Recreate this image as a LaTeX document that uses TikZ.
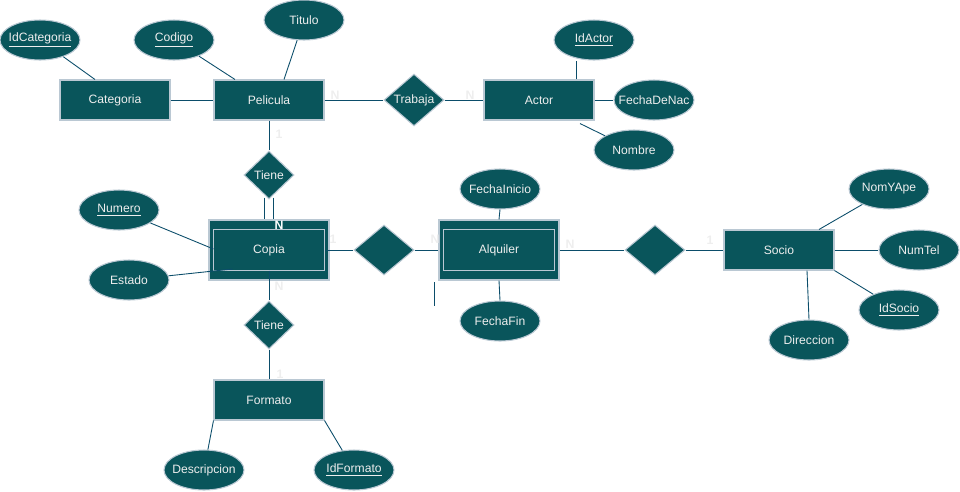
\documentclass[tikz,border=0pt]{standalone}
\usepackage{fontspec}
\setmainfont{Liberation Sans}
\usetikzlibrary{shapes.geometric}

\definecolor{erfill}{HTML}{09555B}
\definecolor{erborder}{HTML}{BAC8D3}
\definecolor{erline}{HTML}{0B4D6A}
\definecolor{ertext}{HTML}{EEEEEE}

\newcommand{\attrname}[1]{\makebox[0pt]{#1}}
\newcommand{\keyname}[1]{\makebox[0pt]{\underline{#1}}}

\tikzset{
	entity/.style={rectangle, fill=erfill, draw=erborder, line width=0.6pt, text=ertext, minimum width=2.2cm, minimum height=0.8cm, inner sep=0pt},
	weakentity/.style={entity, minimum width=2.4cm, minimum height=1.2cm},
	attribute/.style={ellipse, fill=erfill, draw=erborder, line width=0.6pt, text=ertext, minimum width=1.6cm, minimum height=0.8cm, inner sep=0pt},
	relation/.style={diamond, fill=erfill, draw=erborder, line width=0.6pt, text=ertext, minimum width=1.2cm, minimum height=1cm, inner sep=0pt},
	smallrelation/.style={relation, minimum width=1cm, minimum height=0.96cm},
	link/.style={draw=erline, line width=0.5pt},
	innerframe/.style={draw=erborder, line width=0.6pt},
	card/.style={text=ertext, inner sep=0pt, font=\fontsize{7}{8}\selectfont\bfseries}
}

\begin{document}
\begin{tikzpicture}[x=0.02cm, y=-0.02cm, font=\fontsize{6.9}{8}\selectfont]
		\useasboundingbox (0,0) rectangle (960,491);
		
		\node [entity] (categoria) at (115,100) {Categoria};
		\node [entity] (pelicula) at (269,100) {Pelicula};
		\node [entity] (actor) at (539,100) {Actor};
		\node [relation] (trabaja) at (414,100) {Trabaja};
		\node [attribute] (idcategoria) at (40,40) {\keyname{IdCategoria}};
		\node [attribute] (codigo) at (174,40) {\keyname{Codigo}};
		\node [attribute] (titulo) at (304,20) {\attrname{Titulo}};
		\node [attribute] (idactor) at (594,40) {\keyname{IdActor}};
		\node [attribute] (fechadenac) at (654,100) {\attrname{FechaDeNac}};
		\node [attribute] (nombre) at (634,150) {\attrname{Nombre}};
		
		\node [smallrelation] (tienecopia) at (269,175) {Tiene};
		\node [weakentity] (copia) at (269,250) {Copia};
		\node [relation] (copiaalquiler) at (384,250) {};
		\node [weakentity] (alquiler) at (499,250) {Alquiler};
		\node [relation] (alquilersocio) at (655,250) {};
		\node [entity] (socio) at (779,250) {Socio};
		\node [attribute] (numero) at (119,210) {\keyname{Numero}};
		\node [attribute] (estado) at (129,280) {\attrname{Estado}};
		\node [attribute] (fechainicio) at (500,189) {\attrname{FechaInicio}};
		\node [attribute] (fechafin) at (500,321) {\attrname{FechaFin}};
		\node [attribute] (nomyape) at (889,189) {\attrname{NomYApe}};
		\node [attribute] (numtel) at (919,250) {\attrname{NumTel}};
		\node [attribute] (idsocio) at (899,310) {\keyname{IdSocio}};
		\node [attribute] (direccion) at (809,340) {\attrname{Direccion}};
		
		\node [smallrelation] (tieneformato) at (269,325) {Tiene};
		\node [entity] (formato) at (269,400) {Formato};
		\node [attribute] (descripcion) at (204,470) {\attrname{Descripcion}};
		\node [attribute] (idformato) at (354,470) {\keyname{IdFormato}};
		
		\draw [innerframe] ([shift={(5,10)}]copia.north west) rectangle ([shift={(-5,-10)}]copia.south east);
		\draw [innerframe] ([shift={(5,10)}]alquiler.north west) rectangle ([shift={(-5,-10)}]alquiler.south east);
		
		\draw [link] (idcategoria) -- ([shift={(-20,0)}]categoria.north);
		\draw [link] (codigo) -- ([shift={(-34,0)}]pelicula.north);
		\draw [link] (titulo) -- ([shift={(15,0)}]pelicula.north);
		\draw [link] (categoria.east) -- (pelicula.west);
		\draw [link] (pelicula.east) -- (trabaja.west);
		\draw [link] (trabaja.east) -- (actor.west);
		\draw [link] ([shift={(37,0)}]actor.north) -- ([shift={(37,0)}]actor.north |- idactor.south);
		\draw [link] (actor.east) -- (fechadenac.west);
		\draw [link] ([shift={(41,3)}]actor.south) -- (nombre);
		
		\draw [link] (pelicula.south) -- (tienecopia.north);
		\draw [link] ([shift={(-5,-2)}]tienecopia.south) -- ([shift={(-5,0)}]copia.north);
		\draw [link] ([shift={(4,-2)}]tienecopia.south) -- ([shift={(4,0)}]copia.north);
		\draw [link] (numero) -- ([shift={(5,-1)}]copia.west);
		\draw [link] (estado) -- ([shift={(24,19)}]copia.west);
		\draw [link] ([shift={(-4,0)}]copia.east) -- (copiaalquiler.west);
		\draw [link] (copiaalquiler.east) -- (alquiler.west);
		\draw [link] (fechainicio.south) -- (alquiler.north);
		\draw [link] (alquiler.south) -- (fechafin.north);
		\draw [link] (alquiler.east) -- (alquilersocio.west);
		\draw [link] (alquilersocio.east) -- (socio.west);
		\draw [link] ([shift={(40,0)}]socio.north) -- (nomyape);
		\draw [link] (socio.east) -- (numtel.west);
		\draw [link] (socio.south east) -- (idsocio);
		\draw [link] ([shift={(28,0)}]socio.south) -- (direccion.north);
		\coordinate (loosetop) at (434,282);
		\coordinate (loosebottom) at (434,306);
		\draw [link] (loosetop) -- (loosebottom);
		
		\draw [link] ([shift={(0,-10)}]copia.south) -- (tieneformato.north);
		\draw [link] (tieneformato.south) -- (formato.north);
		\draw [link] (formato.south west) -- (descripcion);
		\draw [link] (formato.south east) -- (idformato);
		
		\node [card] at (335,95) {N};
		\node [card] at (470,95) {N};
		\node [card] at (279,134) {1};
		\node [card, text=white] at (279,225) {N};
		\node [card] at (333,239) {1};
		\node [card] at (435,239) {N};
		\node [card] at (570,244) {N};
		\node [card] at (710,240) {1};
		\node [card] at (279,286) {N};
		\node [card] at (280,374) {1};
		
		\end{tikzpicture}
\end{document}
